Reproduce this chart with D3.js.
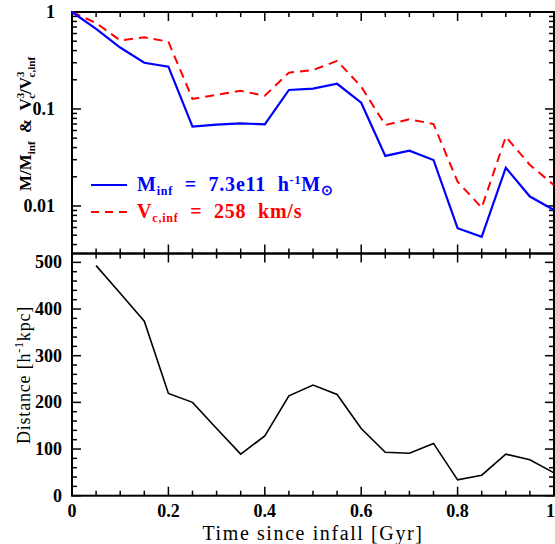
<!DOCTYPE html>
<html>
<head>
<meta charset="utf-8">
<script src="https://cdn.jsdelivr.net/npm/d3@7"></script>
<style>
  body { margin: 0; background: #fff; }
  text { font-family: "Liberation Serif", serif; fill: #000; white-space: pre; }
</style>
</head>
<body>
<svg id="chart"></svg>
<script>
// time since infall, Gyr
const times = [0, 0.05, 0.1, 0.15, 0.2, 0.25, 0.3, 0.35, 0.4, 0.45, 0.5,
  0.55, 0.6, 0.65, 0.7, 0.75, 0.8, 0.85, 0.9, 0.95, 1.0];
// M / M_inf
const massRatio = [1, 0.67, 0.43, 0.30, 0.273, 0.0657, 0.069, 0.071, 0.0695, 0.157, 0.162,
  0.182, 0.116, 0.0328, 0.0372, 0.0298, 0.0059, 0.0048, 0.0248, 0.0125, 0.0091];
// V_c^3 / V_c,inf^3
const vcRatio = [1, 0.77, 0.51, 0.548, 0.494, 0.127, 0.14, 0.154, 0.137, 0.237, 0.252,
  0.313, 0.170, 0.0684, 0.0783, 0.070, 0.0178, 0.0096, 0.0518, 0.0265, 0.0164];
// distance, h^-1 kpc (starts at 0.05)
const distTimes = times.slice(1);
const distance = [493, 434, 374, 219, 200, 144, 89, 128, 214, 237, 217,
  144, 93, 91, 112, 34, 44, 89, 77, 49];

const xTicks = [0, 0.2, 0.4, 0.6, 0.8, 1];
const logTicks = [1, 0.1, 0.01];
const distTicks = [0, 100, 200, 300, 400, 500];

const width = 555, height = 544;
const left = 72, right = 554;
const top1 = 12, mid = 253.5, bottom2 = 495.7;

const svg = d3.select('#chart').attr('width', width).attr('height', height);

const x = d3.scaleLinear().domain([0, 1]).range([left, right]);
const yTop = d3.scaleLog().domain([Math.pow(10, -2.49), 1]).range([mid, top1]);
const yBot = d3.scaleLinear().domain([0, 519]).range([bottom2, mid]);

// inner ticks along a horizontal edge
function xTickMarks(y0, dir) {
  const g = svg.append('g');
  d3.range(0, 1.0001, 0.05).forEach((t) => {
    const major = Math.abs(t * 5 - Math.round(t * 5)) < 1e-6;
    const len = major ? 9 : 5;
    g.append('line').attr('x1', x(t)).attr('x2', x(t))
      .attr('y1', y0).attr('y2', y0 + dir * len)
      .attr('stroke', '#000').attr('stroke-width', 1.5);
  });
}

function yTickMarks(scale, values, isMajor) {
  const g = svg.append('g');
  values.forEach((v) => {
    const len = isMajor(v) ? 9 : 5;
    [[left, 1], [right, -1]].forEach(([x0, d]) => {
      g.append('line').attr('x1', x0).attr('x2', x0 + d * len)
        .attr('y1', scale(v)).attr('y2', scale(v))
        .attr('stroke', '#000').attr('stroke-width', 1.5);
    });
  });
}

// top panel ticks (log)
const logVals = [];
[0.001, 0.01, 0.1].forEach((dec) => {
  for (let k = 1; k < 10; k++) {
    const v = dec * k;
    if (v >= yTop.domain()[0]) logVals.push(v);
  }
});
logVals.push(1);
yTickMarks(yTop, logVals, (v) => Math.abs(Math.log10(v) - Math.round(Math.log10(v))) < 1e-6);
yTickMarks(yBot, d3.range(0, 520, 20), (v) => v % 100 === 0);

xTickMarks(top1, 1);
xTickMarks(mid, -1);
xTickMarks(mid, 1);
xTickMarks(bottom2, -1);

// frames
svg.append('rect').attr('x', left).attr('y', top1).attr('width', right - left)
  .attr('height', mid - top1).attr('fill', 'none').attr('stroke', '#000').attr('stroke-width', 2);
svg.append('rect').attr('x', left).attr('y', mid).attr('width', right - left)
  .attr('height', bottom2 - mid).attr('fill', 'none').attr('stroke', '#000').attr('stroke-width', 2);

// lines
const lineTop = (vals) => d3.line().x((d, i) => x(times[i])).y((d) => yTop(d))(vals);
svg.append('path').attr('d', lineTop(vcRatio)).attr('fill', 'none')
  .attr('stroke', '#ff0000').attr('stroke-width', 2).attr('stroke-dasharray', '9,6');
svg.append('path').attr('d', lineTop(massRatio)).attr('fill', 'none')
  .attr('stroke', '#0000ff').attr('stroke-width', 2.2);
svg.append('path')
  .attr('d', d3.line().x((d, i) => x(distTimes[i])).y((d) => yBot(d))(distance))
  .attr('fill', 'none').attr('stroke', '#000').attr('stroke-width', 1.6);

// tick labels
const tickText = (tx, ty, anchor, s) => svg.append('text').attr('x', tx).attr('y', ty)
  .attr('text-anchor', anchor).attr('font-size', 18).style('font-weight', 'bold').text(s);
logTicks.forEach((v) => tickText(55, yTop(v) + 6, 'end', v));
distTicks.forEach((v) => tickText(62, yBot(v) + 6, 'end', v));
xTicks.forEach((v) => tickText(v === 1 ? 555 : x(v), 517, v === 1 ? 'end' : 'middle', v));

// axis titles
svg.append('text').attr('x', 313).attr('y', 540).attr('text-anchor', 'middle')
  .attr('font-size', 20).attr('letter-spacing', 1.6)
  .text('Time since infall [Gyr]');

const yl1 = svg.append('text').attr('transform', 'translate(31,124) rotate(-90)')
  .attr('text-anchor', 'middle').attr('font-size', 17).style('font-weight', 'bold');
yl1.append('tspan').text('M/M');
yl1.append('tspan').attr('font-size', 11).attr('dy', 4).text('inf');
yl1.append('tspan').attr('dy', -4).text('  &  V');
yl1.append('tspan').attr('font-size', 11).attr('dy', -7).text('3');
yl1.append('tspan').attr('font-size', 11).attr('dx', -6).attr('dy', 11).text('c');
yl1.append('tspan').attr('dy', -4).text('/V');
yl1.append('tspan').attr('font-size', 11).attr('dy', -7).text('3');
yl1.append('tspan').attr('font-size', 11).attr('dx', -6).attr('dy', 11).text('c,inf');

const yl2 = svg.append('text').attr('transform', 'translate(30,375) rotate(-90)')
  .attr('text-anchor', 'middle').attr('font-size', 18).attr('letter-spacing', 0.8);
yl2.append('tspan').text('Distance [h');
yl2.append('tspan').attr('font-size', 12).attr('dy', -7).text('-1');
yl2.append('tspan').attr('dy', 7).text('kpc]');

// legend
svg.append('line').attr('x1', 91).attr('x2', 127).attr('y1', 185).attr('y2', 185)
  .attr('stroke', '#0000ff').attr('stroke-width', 2);
svg.append('line').attr('x1', 91).attr('x2', 127).attr('y1', 212).attr('y2', 212)
  .attr('stroke', '#ff0000').attr('stroke-width', 2).attr('stroke-dasharray', '8,6');

const lg1 = svg.append('text').attr('x', 137).attr('y', 191).attr('font-size', 20)
  .attr('letter-spacing', 0.8).style('fill', '#0000ff').style('font-weight', 'bold');
lg1.append('tspan').text('M');
lg1.append('tspan').attr('font-size', 12).attr('dy', 4).text('inf');
lg1.append('tspan').attr('dy', -4).text('  =  7.3e11  h');
lg1.append('tspan').attr('font-size', 12).attr('dy', -7).text('-1');
lg1.append('tspan').attr('dy', 7).text('M');
lg1.append('tspan').attr('font-size', 14).attr('dy', 4).text('⊙');

const lg2 = svg.append('text').attr('x', 137).attr('y', 218).attr('font-size', 20)
  .attr('letter-spacing', 0.8).style('fill', '#ff0000').style('font-weight', 'bold');
lg2.append('tspan').text('V');
lg2.append('tspan').attr('font-size', 12).attr('dy', 4).text('c,inf');
lg2.append('tspan').attr('dy', -4).text('  =  258  km/s');
</script>
</body>
</html>
